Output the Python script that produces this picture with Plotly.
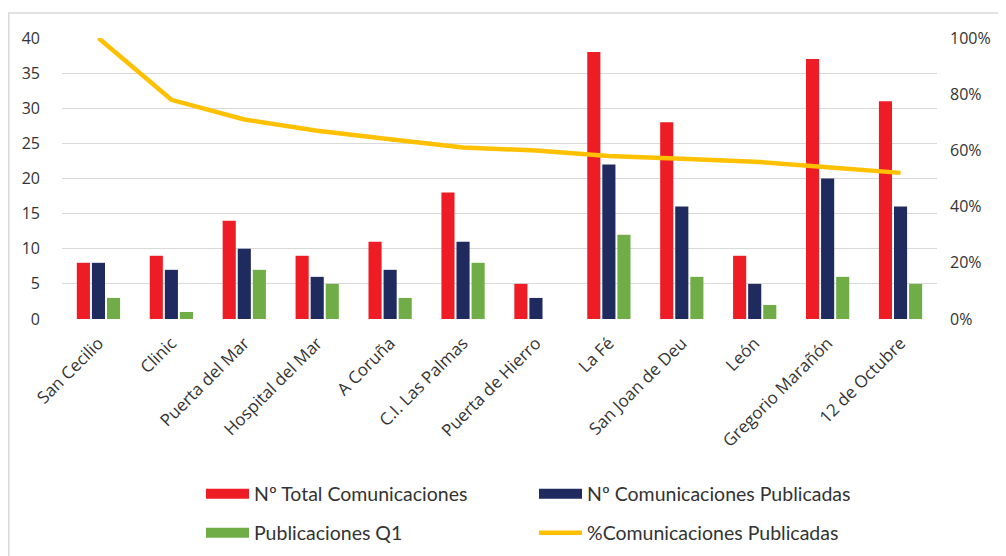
import plotly.graph_objects as go

categories = ["San Cecilio", "Clinic", "Puerta del Mar", "Hospital del Mar", "A Coruña",
              "C.I. Las Palmas", "Puerta de Hierro", "La Fé", "San Joan de Deu", "León",
              "Gregorio Marañón", "12 de Octubre"]
total_com = [8, 9, 14, 9, 11, 18, 5, 38, 28, 9, 37, 31]
com_publicadas = [8, 7, 10, 6, 7, 11, 3, 22, 16, 5, 20, 16]
pub_q1 = [3, 1, 7, 5, 3, 8, 0, 12, 6, 2, 6, 5]
pct_publicadas = [1.00, 0.78, 0.71, 0.67, 0.64, 0.61, 0.60, 0.58, 0.57, 0.56, 0.54, 0.52]

names = ["Nº Total Comunicaciones", "Nº Comunicaciones Publicadas",
         "Publicaciones Q1", "%Comunicaciones Publicadas"]
colors = ["#EE1C25", "#1F2A5E", "#70AD47", "#FFC000"]

AX_FONT = "Open Sans"
LG_FONT = "Lato"
TXT = "#333333"

fig = go.Figure()
for vals, nm, col in zip([total_com, com_publicadas, pub_q1], names[:3], colors[:3]):
    fig.add_trace(go.Bar(x=categories, y=vals, name=nm, showlegend=False,
                         marker=dict(color=col, line=dict(width=0))))
fig.add_trace(go.Scatter(x=categories, y=pct_publicadas, name=names[3], showlegend=False,
                         mode="lines", line=dict(color=colors[3], width=4.5), yaxis="y2"))

# legend entries (wide swatches like the original)
legend_ids = ["legend", "legend", "legend2", "legend2"]
swatch_w = [10, 10, 10, 4.5]
for nm, col, lg, sw in zip(names, colors, legend_ids, swatch_w):
    fig.add_trace(go.Scatter(x=[None], y=[None], name=nm, mode="lines",
                             line=dict(color=col, width=sw), legend=lg, hoverinfo="skip"))

# page body has an 8px margin -> work in figure coords = screen coords - 8
OFF = 8
W, H = 1006 - OFF, 556 - OFF
L, R, T, B = 62 - OFF, 937 - OFF, 38 - OFF, 319 - OFF
pw, ph = R - L, B - T

def px(x):
    return (x - OFF - L) / pw

def py(y):
    return (B - (y - OFF)) / ph

leg_common = dict(orientation="h", xanchor="left", yanchor="middle",
                  entrywidth=275, entrywidthmode="pixels", itemwidth=43,
                  font=dict(family=LG_FONT, size=19.5, color=TXT),
                  bgcolor="rgba(0,0,0,0)", traceorder="normal")

fig.update_layout(
    width=W, height=H,
    margin=dict(l=L, r=W - R, t=T, b=H - B, autoexpand=False),
    paper_bgcolor="white", plot_bgcolor="white",
    font=dict(family=AX_FONT, size=16, color=TXT),
    barmode="group", bargap=0.38, bargroupgap=0.13,
    xaxis=dict(type="category", tickangle=-45, showgrid=False, showline=False,
               ticks="", automargin=False, ticklabelstandoff=10,
               tickfont=dict(family=AX_FONT, size=17, color=TXT)),
    yaxis=dict(range=[0, 40], dtick=5, showgrid=True, gridcolor="#D9D9D9", gridwidth=1.3,
               zeroline=False, showline=False, ticks="", ticklabelstandoff=21, automargin=False,
               tickfont=dict(family=AX_FONT, size=16, color=TXT)),
    yaxis2=dict(range=[0, 1], dtick=0.2, tickformat=".0%", overlaying="y", side="right",
                showgrid=False, zeroline=False, showline=False, ticks="", automargin=False,
                ticklabelstandoff=12, tickfont=dict(family=AX_FONT, size=16, color=TXT)),
    legend=dict(x=px(201), y=py(494), **leg_common),
    legend2=dict(x=px(201), y=py(533), **leg_common),
    showlegend=True,
    shapes=[dict(type="rect", xref="paper", yref="paper",
                 x0=px(8.8), x1=px(1020), y0=py(570), y1=py(13),
                 line=dict(color="#D9D9D9", width=1.5), fillcolor="rgba(0,0,0,0)",
                 layer="below")],
)

fig.write_html("out.html")
